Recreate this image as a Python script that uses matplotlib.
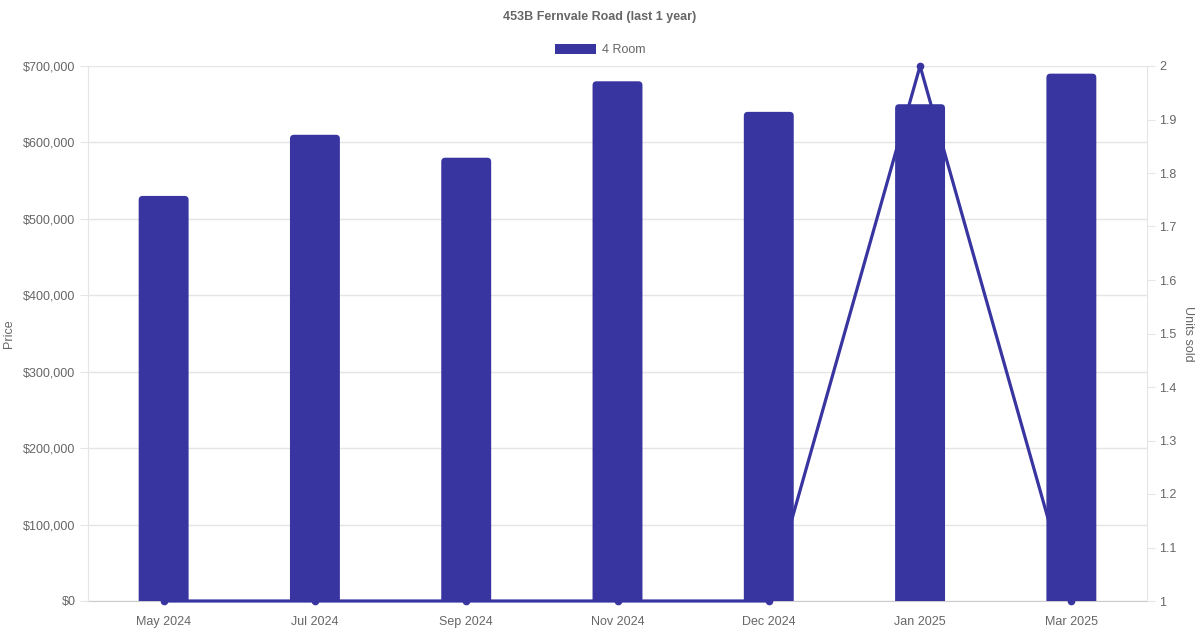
import matplotlib
matplotlib.use("Agg")
import matplotlib.pyplot as plt
import matplotlib.ticker as ticker
import matplotlib.transforms as mtransforms
from matplotlib.patches import Patch, FancyBboxPatch

plt.rcParams.update({
    "font.family": ["Liberation Sans", "DejaVu Sans"],
    "font.size": 9,
})

months = ["May 2024", "Jul 2024", "Sep 2024", "Nov 2024", "Dec 2024", "Jan 2025", "Mar 2025"]
prices = [530000, 610000, 580000, 680000, 640000, 650000, 690000]
units_sold = [1, 1, 1, 1, 1, 2, 1]
price_ticks = [0, 100000, 200000, 300000, 400000, 500000, 600000, 700000]

BAR = "#3935a0"
TXT = "#666666"
GRID = "#e5e5e5"

W, H = 1200, 630
L, R, T, B = 88, 1147, 66, 601
fig = plt.figure(figsize=(12, 6.3), dpi=100)
ax = fig.add_axes([L / W, 1 - B / H, (R - L) / W, (B - T) / H])
ax2 = ax.twinx()

x = list(range(len(months)))
ymax = 700000
ax.set_ylim(0, ymax)
ax.set_xlim(-0.5, len(months) - 0.5)

# grid lines on the lower axes so the line sits above them
trans = mtransforms.blended_transform_factory(ax2.transAxes, ax.transData)
ax2.hlines(price_ticks, 0, 1, transform=trans, color=GRID, linewidth=1, zorder=0)

# line (behind the bars)
ax2.plot(x, units_sold, color=BAR, linewidth=2.3, marker="o", markersize=4.5,
         clip_on=False, zorder=2)
ax2.set_ylim(1, 2)
ax2.yaxis.set_major_locator(ticker.MultipleLocator(0.1))
ax2.yaxis.set_major_formatter(ticker.FuncFormatter(lambda v, p: f"{v:g}"))

# bars with rounded tops
bw = 0.33
xpp = len(months) / (R - L)
ypp = ymax / (B - T)
rad = 4 * xpp
for xi, p in zip(x, prices):
    box = FancyBboxPatch((xi - bw / 2, -10 * ypp), bw, p + 10 * ypp,
                         boxstyle=f"round,pad=0,rounding_size={rad}",
                         mutation_aspect=ypp / xpp, facecolor=BAR,
                         edgecolor="none", zorder=3)
    ax.add_patch(box)

ax.yaxis.set_major_locator(ticker.FixedLocator(price_ticks))
ax.yaxis.set_major_formatter(ticker.FuncFormatter(lambda v, p: f"${v:,.0f}"))
ax.set_xticks(x)
ax.set_xticklabels(months)

# bar axes above the line axes
ax.set_zorder(ax2.get_zorder() + 1)
ax.patch.set_visible(False)
ax2.patch.set_facecolor("white")

for a in (ax, ax2):
    for s in a.spines.values():
        s.set_visible(False)
ax.spines["left"].set_visible(True)
ax.spines["left"].set_color(GRID)
ax2.spines["right"].set_visible(True)
ax2.spines["right"].set_color(GRID)
ax2.spines["bottom"].set_visible(True)
ax2.spines["bottom"].set_color("#cccccc")
ax2.spines["bottom"].set_zorder(1)

ax.tick_params(axis="y", colors=TXT, labelsize=9, length=6, color=GRID, pad=3)
ax.tick_params(axis="x", colors=TXT, labelsize=9, length=0, pad=11)
ax2.tick_params(axis="y", colors=TXT, labelsize=9, length=6, color=GRID, pad=3)

ax.set_ylabel("Price", color=TXT, fontsize=9, labelpad=6)
ax2.set_ylabel("Units sold", color=TXT, fontsize=9, rotation=-90, labelpad=12)

fig.text(0.5, 1 - 17 / H, "453B Fernvale Road (last 1 year)", ha="center", va="center",
         fontsize=9, fontweight="bold", color=TXT)
fig.legend(handles=[Patch(facecolor=BAR, label="4 Room")], loc="center",
           bbox_to_anchor=(0.5, 1 - 50 / H), frameon=False, fontsize=9,
           labelcolor=TXT, handlelength=3.3, handleheight=0.8, handletextpad=0.5)

fig.savefig("out.png", dpi=100)
